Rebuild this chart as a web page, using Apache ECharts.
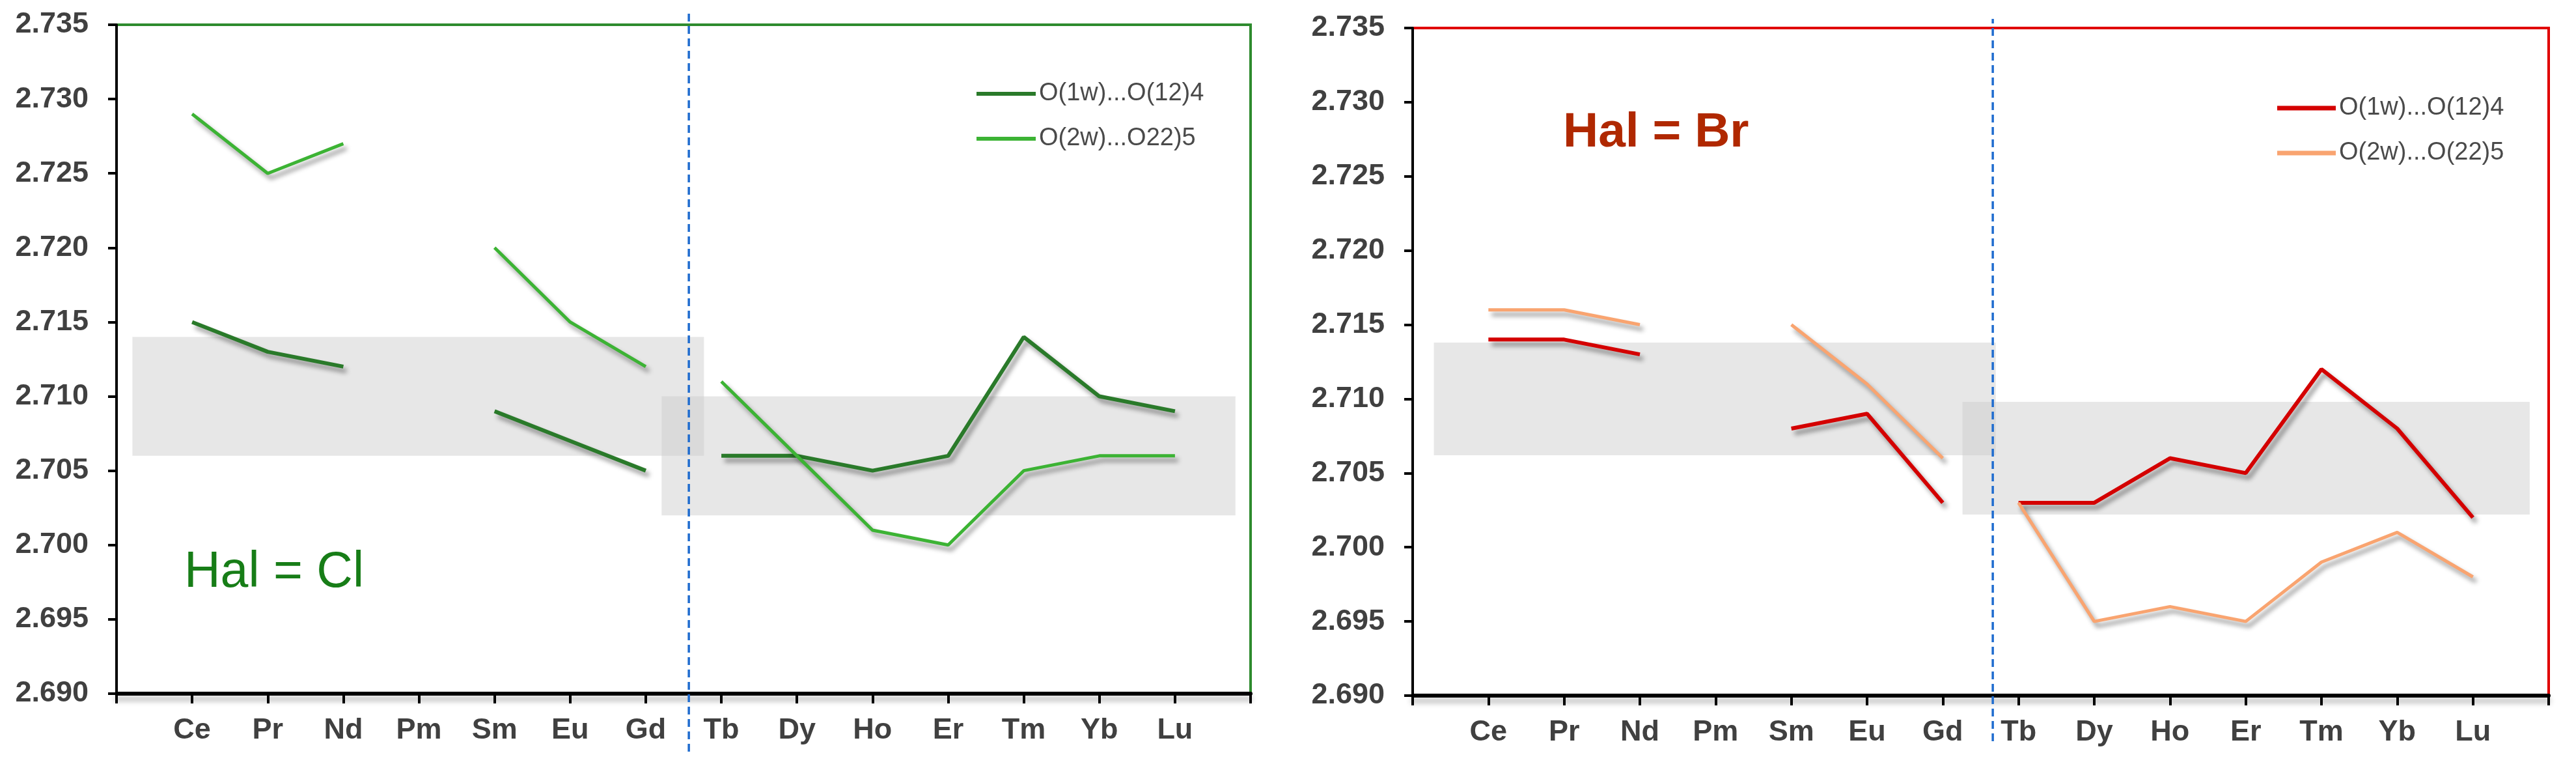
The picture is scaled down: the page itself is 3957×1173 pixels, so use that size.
<!DOCTYPE html>
<html>
<head>
<meta charset="utf-8">
<script src="https://cdn.jsdelivr.net/npm/echarts@6/dist/echarts.min.js"></script>
<style>
html,body{margin:0;padding:0;background:#fff;}
#chart{width:3957px;height:1173px;}
</style>
</head>
<body>
<div id="chart"></div>
<script>
// ---- data ----
const categories = ['Ce','Pr','Nd','Pm','Sm','Eu','Gd','Tb','Dy','Ho','Er','Tm','Yb','Lu'];
const clO1 = [2.715, 2.713, 2.712, null, 2.709, 2.707, 2.705, 2.706, 2.706, 2.705, 2.706, 2.714, 2.710, 2.709];
const clO2 = [2.729, 2.725, 2.727, null, 2.720, 2.715, 2.712, 2.711, 2.706, 2.701, 2.700, 2.705, 2.706, 2.706];
const brO1 = [2.714, 2.714, 2.713, null, 2.708, 2.709, 2.703, 2.703, 2.703, 2.706, 2.705, 2.712, 2.708, 2.702];
const brO2 = [2.716, 2.716, 2.715, null, 2.715, 2.711, 2.706, 2.703, 2.695, 2.696, 2.695, 2.699, 2.701, 2.698];
const clNames = ['O(1w)...O(12)4', 'O(2w)...O22)5'];
const brNames = ['O(1w)...O(12)4', 'O(2w)...O(22)5'];
// grey bands: [xFrom, yFrom, xTo, yTo]
const clBands = [[0.21, 2.706, 7.77, 2.714], [7.21, 2.702, 14.8, 2.710]];
const brBands = [[0.28, 2.7062, 7.70, 2.7138], [7.26, 2.7022, 14.75, 2.7098]];
const dividerX = [7.57, 7.66];

// ---- style ----
const FONT = '"Liberation Sans", Arial, sans-serif';
const C = {
  dkGreen: '#2a7a2a', ltGreen: '#3cb334', red: '#d40000', orange: '#f9a470',
  greenBorder: '#2e8b2e', redBorder: '#e00000', blue: '#1f6ccf', label: '#404040'
};

function segments(values, name, color, width, axis) {
  const light = [], heavy = [];
  values.forEach((v, i) => {
    const pt = [i + 1, v === null ? '-' : v];
    (i < 7 ? light : heavy).push(pt);
  });
  return [light, heavy].map(d => ({
    type: 'line', name: name, xAxisIndex: axis, yAxisIndex: axis,
    data: d, symbol: 'none', showSymbol: false, connectNulls: false, z: 5,
    itemStyle: { color: color },
    lineStyle: { color: color, width: width, shadowColor: 'rgba(0,0,0,0.42)', shadowBlur: 7, shadowOffsetX: 5, shadowOffsetY: 7 }
  }));
}

function bandSeries(bands, axis) {
  return {
    type: 'line', xAxisIndex: axis, yAxisIndex: axis, data: [], z: 1, silent: true,
    markArea: {
      silent: true,
      itemStyle: { color: 'rgba(203,203,203,0.46)' },
      data: bands.map(b => [{ xAxis: b[0], yAxis: b[1] }, { xAxis: b[2], yAxis: b[3] }])
    }
  };
}

function dividerSeries(x, axis) {
  return {
    type: 'line', xAxisIndex: axis, yAxisIndex: axis, data: [[x, 0], [x, 1]], symbol: 'none', silent: true, z: 6,
    lineStyle: { color: C.blue, width: 3.5, type: [12, 7] }
  };
}

function xAxisVis(gi) {
  return {
    type: 'value', gridIndex: gi, min: 0, max: 15, interval: 1,
    splitLine: { show: false },
    axisLine: { show: true, onZero: false, lineStyle: { color: '#000', width: 6, shadowColor: 'rgba(0,0,0,0.3)', shadowBlur: 8, shadowOffsetY: 8 } },
    axisTick: { show: true, inside: false, length: 15, lineStyle: { color: '#000', width: 4 } },
    axisLabel: {
      margin: 34, fontSize: 45, fontWeight: 'bold', fontFamily: FONT, color: C.label,
      formatter: v => categories[v - 1] || ''
    }
  };
}
function yAxisVis(gi) {
  return {
    type: 'value', gridIndex: gi, min: 2.690, max: 2.735, interval: 0.005,
    splitLine: { show: false },
    axisLine: { show: true, onZero: false, lineStyle: { color: '#000', width: 4 } },
    axisTick: { show: true, inside: false, length: 13, lineStyle: { color: '#000', width: 4 } },
    axisLabel: {
      margin: 43, fontSize: 45, fontWeight: 'bold', fontFamily: FONT, color: C.label,
      formatter: v => v.toFixed(3)
    }
  };
}

const option = {
  animation: false,
  backgroundColor: '#fff',
  grid: [
    { left: 179, top: 38, width: 1742, height: 1027, show: true, borderColor: C.greenBorder, borderWidth: 4, backgroundColor: 'transparent' },
    { left: 2170, top: 43, width: 1745, height: 1025, show: true, borderColor: C.redBorder, borderWidth: 4, backgroundColor: 'transparent' },
    { left: 179, top: 19, width: 1742, height: 1135 },
    { left: 2170, top: 29, width: 1745, height: 1109 }
  ],
  xAxis: [
    xAxisVis(0), xAxisVis(1),
    { type: 'value', gridIndex: 2, min: 0, max: 15, show: false },
    { type: 'value', gridIndex: 3, min: 0, max: 15, show: false }
  ],
  yAxis: [
    yAxisVis(0), yAxisVis(1),
    { type: 'value', gridIndex: 2, min: 0, max: 1, show: false },
    { type: 'value', gridIndex: 3, min: 0, max: 1, show: false }
  ],
  legend: [
    {
      orient: 'vertical', left: 1495, top: 119, icon: 'rect', itemWidth: 91, itemHeight: 6, itemGap: 29,
      selectedMode: false,
      textStyle: { fontSize: 38, fontFamily: FONT, color: '#4a4a4a', lineHeight: 40 },
      data: [
        { name: clNames[0], itemStyle: { color: C.dkGreen } },
        { name: clNames[1], itemStyle: { color: C.ltGreen } }
      ]
    },
    {
      orient: 'vertical', left: 3493, top: 141, icon: 'rect', itemWidth: 90, itemHeight: 7, itemGap: 29,
      selectedMode: false,
      textStyle: { fontSize: 38, fontFamily: FONT, color: '#4a4a4a', lineHeight: 40 },
      data: [
        { name: brNames[0], itemStyle: { color: C.red } },
        { name: brNames[1], itemStyle: { color: C.orange } }
      ]
    }
  ],
  graphic: [
    { type: 'text', x: 283, y: 880, z: 10,
      style: { text: 'Hal = Cl', fontSize: 77, fontFamily: FONT, fill: '#177d17', verticalAlign: 'middle', align: 'left' } },
    { type: 'text', x: 2401, y: 204, z: 10,
      style: { text: 'Hal = Br', fontSize: 75, fontWeight: 'bold', fontFamily: FONT, fill: '#b02800', verticalAlign: 'middle', align: 'left' } }
  ],
  series: [
    bandSeries(clBands, 0),
    bandSeries(brBands, 1),
    ...segments(clO1, clNames[0], C.dkGreen, 6, 0),
    ...segments(clO2, clNames[1], C.ltGreen, 5, 0),
    ...segments(brO1, brNames[0], C.red, 6, 1),
    ...segments(brO2, brNames[1], C.orange, 5, 1),
    dividerSeries(dividerX[0], 2),
    dividerSeries(dividerX[1], 3)
  ]
};

const chart = echarts.init(document.getElementById('chart'), null, { renderer: 'canvas' });
chart.setOption(option);
</script>
</body>
</html>
